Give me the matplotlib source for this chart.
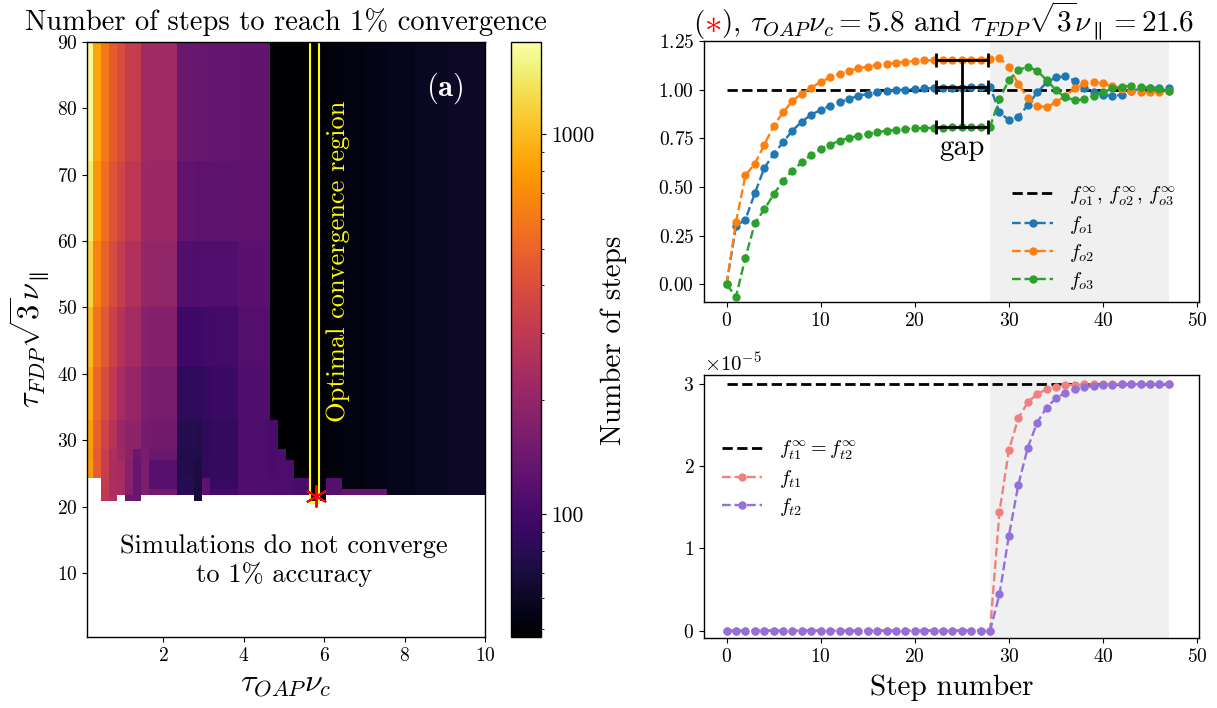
import numpy as np
import matplotlib
matplotlib.use("Agg")
import matplotlib.pyplot as plt
from matplotlib import colors, ticker, transforms
from matplotlib.patches import Rectangle

plt.rcParams.update({
    "font.family": "serif",
    "font.serif": ["cmr10"],
    "mathtext.fontset": "cm",
    "axes.formatter.use_mathtext": True,
    "axes.linewidth": 1.0,
    "xtick.labelsize": 14,
    "ytick.labelsize": 14,
})

nan = np.nan

# ---- scan over (tau_OAP nu_c, tau_FDP sqrt3 nu_par): steps to 1% convergence
x_edges = [0.05, 0.25, 0.45, 0.65, 0.85, 1.05, 1.25, 1.45, 1.65, 2.35, 2.75,
           2.95, 3.15, 3.85, 4.65, 4.85, 5.05, 5.25, 5.65, 6.05, 6.45, 7.05,
           7.55, 8.25, 9.05, 10.05]
y_edges = [20.9, 21.77, 22.63, 24.36, 26.96, 28.69, 33.02, 41.0, 50.0, 60.0,
           72.0, 90.2]
# one list per x band, bottom row first (nan = did not converge)
steps_by_band = [
    [nan, nan, nan, 800, 780, 800, 880, 1000, 1200, 1450, 1650],
    [nan, nan, nan, 470, 460, 480, 520, 580, 660, 760, 850],
    [300, 300, 310, 320, 330, 350, 390, 440, 490, 550, 600],
    [260, 250, 250, 245, 250, 270, 300, 340, 380, 425, 465],
    [nan, 240, 240, 235, 215, 210, 235, 270, 310, 355, 395],
    [140, 175, 180, 180, 185, 190, 205, 230, 260, 290, 315],
    [140, 135, 135, 135, 140, 190, 205, 230, 260, 290, 315],
    [nan, 170, 165, 160, 160, 155, 165, 180, 200, 215, 228],
    [nan, 150, 118, 118, 140, 150, 158, 175, 195, 212, 225],
    [nan, 80, 78, 76, 76, 78, 84, 96, 112, 128, 140],
    [68, 68, 70, 72, 74, 76, 84, 96, 110, 125, 138],
    [nan, 125, 125, 85, 84, 84, 88, 98, 112, 125, 136],
    [nan, 100, 90, 88, 88, 88, 92, 100, 112, 124, 132],
    [nan, 112, 110, 108, 108, 108, 110, 114, 120, 126, 130],
    [nan, 108, 108, 106, 106, 106, 48, 48, 48, 48, 48],
    [nan, 108, 108, 108, 108, 48, 48, 48, 48, 48, 48],
    [nan, 108, 108, 108, 48, 48, 48, 48, 48, 48, 48],
    [nan, 105, 105, 48, 48, 48, 48, 48, 48, 48, 48],
    [48, 48, 48, 48, 48, 48, 48, 48, 48, 48, 48],
    [nan, 117, 117, 51, 51, 51, 51, 51, 51, 51, 51],
    [nan, 130, 53, 53, 53, 53, 53, 53, 53, 53, 53],
    [nan, 130, 55, 55, 55, 55, 55, 55, 55, 55, 55],
    [nan, 57, 57, 57, 57, 57, 57, 57, 57, 57, 57],
    [nan, 59, 59, 59, 59, 59, 59, 59, 59, 59, 59],
    [nan, 61, 61, 61, 61, 61, 61, 61, 61, 61, 61],
]
steps_min, steps_max = 47.5, 1750
opt_band = (5.65, 5.88)
opt_x, opt_y = 5.8, 21.6

# ---- time series for the starred point
step = np.arange(48)
relax_start = 28
f_o1 = [0.0, 0.30, 0.333, 0.468, 0.597, 0.67, 0.73, 0.79, 0.836, 0.872,
        0.896, 0.918, 0.935, 0.952, 0.969, 0.978, 0.986, 0.995, 0.998, 1.0,
        1.004, 1.007, 1.008, 1.009, 1.01, 1.011, 1.012, 1.012, 1.015, 0.883,
        0.844, 0.862, 0.92, 0.986, 1.037, 1.063, 1.068, 1.046, 1.01, 0.986,
        0.973, 0.969, 0.973, 0.995, 1.004, 1.01, 1.01, 1.01]
f_o2 = [0.0, 0.32, 0.56, 0.62, 0.716, 0.815, 0.883, 0.943, 0.98, 1.01,
        1.04, 1.063, 1.08, 1.097, 1.11, 1.118, 1.127, 1.132, 1.138, 1.144,
        1.147, 1.15, 1.152, 1.153, 1.154, 1.155, 1.155, 1.155, 1.16, 1.165,
        1.115, 1.03, 0.957, 0.918, 0.91, 0.935, 0.969, 1.007, 1.032, 1.037,
        1.032, 1.017, 1.004, 0.991, 0.986, 0.986, 0.99, 0.995]
f_o3 = [0.0, -0.062, 0.137, 0.314, 0.385, 0.462, 0.533, 0.585, 0.627, 0.667,
        0.696, 0.718, 0.738, 0.752, 0.764, 0.772, 0.781, 0.79, 0.793, 0.798,
        0.801, 0.803, 0.804, 0.805, 0.806, 0.807, 0.808, 0.809, 0.81, 0.952,
        1.05, 1.1, 1.118, 1.097, 1.05, 0.998, 0.96, 0.947, 0.95, 0.969,
        0.986, 1.007, 1.015, 1.02, 1.015, 1.01, 1.004, 0.995]
f_o_inf = 1.0

f_t1 = [0.0] * 29 + [1.448, 2.198, 2.584, 2.778, 2.879, 2.936, 2.968, 2.985,
                     2.99, 2.995, 2.998, 3.0, 3.0, 3.0, 3.0, 3.0, 3.0, 3.0, 3.0]
f_t2 = [0.0] * 29 + [0.443, 1.156, 1.773, 2.226, 2.53, 2.713, 2.827, 2.895,
                     2.936, 2.96, 2.977, 2.985, 2.99, 2.995, 2.997, 2.998,
                     3.0, 3.0, 3.0]
f_t_inf = 3.0
t_scale = 1e-5

fig = plt.figure(figsize=(12.17, 7.08), dpi=100)
W, H = 1217, 708


def box(l, t, r, b):
    return [l / W, 1 - b / H, (r - l) / W, (b - t) / H]


# ================= heat map =================
ax = fig.add_axes(box(87, 42, 485, 637))
grid = np.array(steps_by_band, dtype=float).T
mesh = ax.pcolormesh(x_edges, y_edges, np.ma.masked_invalid(grid),
                     cmap="inferno",
                     norm=colors.LogNorm(vmin=steps_min, vmax=steps_max))
ax.set_xlim(0.1, 10)
ax.set_ylim(0.35, 90)
ax.set_xticks([2, 4, 6, 8, 10])
ax.set_yticks(range(10, 91, 10))
ax.set_title("Number of steps to reach 1% convergence", fontsize=20.5, pad=9)
ax.set_xlabel(r"$\tau_{OAP}\nu_c$", fontsize=23, labelpad=5)
ax.set_ylabel(r"$\tau_{FDP}\sqrt{3}\nu_\parallel$", fontsize=22, labelpad=4)

ax.add_patch(Rectangle((opt_band[0], 20.5), opt_band[1] - opt_band[0], 72,
                       fill=False, ec="yellow", lw=1.5, clip_on=True))
ax.plot(opt_x, opt_y, marker=(6, 2, 0), ms=16, mew=1.4, color="red",
        ls="none")
ax.text(6.35, 57, "Optimal convergence region", color="yellow", rotation=90,
        ha="center", va="center", fontsize=19)
ax.text(9.0, 83, r"$\mathbf{(a)}$", color="white", ha="center", va="center",
        fontsize=22)
ax.text(5.0, 11.8, "Simulations do not converge\nto 1% accuracy",
        ha="center", va="center", fontsize=19, linespacing=1.2)

cax = fig.add_axes(box(511, 42, 541, 637))
cb = fig.colorbar(mesh, cax=cax)
cb.ax.yaxis.set_major_formatter(ticker.FuncFormatter(lambda v, p: f"{v:g}"))
cb.ax.yaxis.set_minor_formatter(ticker.NullFormatter())
cb.ax.tick_params(labelsize=15.5)

# ================= f_o =================
ax1 = fig.add_axes(box(704, 41, 1199, 302))
ax1.axvspan(relax_start, step[-1], color="#f0f0f0", lw=0, zorder=0)
ax1.plot([step[0], step[-1]], [f_o_inf, f_o_inf], "k--", lw=2,
         label=r"$f_{o1}^{\infty}$, $f_{o2}^{\infty}$, $f_{o3}^{\infty}$")
line_kw = dict(ls="--", marker="o", ms=5, lw=1.7)
ax1.plot(step, f_o1, color="#1f77b4", label=r"$f_{o1}$", **line_kw)
ax1.plot(step, f_o2, color="#ff7f0e", label=r"$f_{o2}$", **line_kw)
ax1.plot(step, f_o3, color="#2ca02c", label=r"$f_{o3}$", **line_kw)

# plateau spread just before relaxation starts
gap_x, gap_half = 25, 2.75
levels = [f_o2[relax_start - 1], f_o1[relax_start - 1], f_o3[relax_start - 1]]
ax1.errorbar([gap_x] * 3, levels, xerr=gap_half, fmt="none", ecolor="k",
             elinewidth=2, capsize=5, capthick=2)
ax1.plot([gap_x, gap_x], [min(levels), max(levels)], "k-", lw=2)
ax1.text(gap_x, min(levels) - 0.04, "gap", ha="center", va="top", fontsize=21)

ax1.set_xlim(-2.4, 50.2)
ax1.set_ylim(-0.09, 1.25)
ax1.set_xticks(range(0, 51, 10))
ax1.set_yticks([0, 0.25, 0.5, 0.75, 1.0, 1.25])
ax1.yaxis.set_major_formatter(ticker.FormatStrFormatter(r"$%.2f$"))
ax1.legend(loc="lower right", frameon=False, fontsize=14.5,
           labelspacing=0.3, bbox_to_anchor=(0.99, -0.03))

# title with a red marker
pieces = [("(", "k", 21), (r"$\ast$", "red", 25),
          (rf"), $\tau_{{OAP}}\nu_c = {opt_x}$ and "
           rf"$\tau_{{FDP}}\sqrt{{3}}\nu_\parallel = {opt_y}$", "k", 21)]
renderer = fig.canvas.get_renderer()
objs, widths = [], []
for s, c, fs in pieces:
    t = ax1.text(0.5, 1.035, s, color=c, transform=ax1.transAxes,
                 va="baseline", ha="left", fontsize=fs)
    objs.append(t)
    widths.append(t.get_window_extent(renderer).width)
x0 = -sum(widths) / 2 - 8
for t, w in zip(objs, widths):
    t.set_transform(transforms.offset_copy(ax1.transAxes, fig=fig, x=x0,
                                           units="dots"))
    x0 += w

# ================= f_t =================
ax2 = fig.add_axes(box(704, 375, 1199, 638))
ax2.axvspan(relax_start, step[-1], color="#f0f0f0", lw=0, zorder=0)
ax2.plot([step[0], step[-1]], [f_t_inf * t_scale] * 2, "k--", lw=2,
         label=r"$f_{t1}^{\infty} = f_{t2}^{\infty}$")
ax2.plot(step, np.array(f_t1) * t_scale, color="#f08080", label=r"$f_{t1}$",
         **line_kw)
ax2.plot(step, np.array(f_t2) * t_scale, color="#9370db", label=r"$f_{t2}$",
         **line_kw)
ax2.set_xlim(-2.4, 50.2)
ax2.set_ylim(-0.09e-5, 3.11e-5)
ax2.set_xticks(range(0, 51, 10))
ax2.set_yticks(np.array([0, 1, 2, 3]) * t_scale)
ax2.yaxis.get_offset_text().set_fontsize(15)
ax2.legend(loc="upper left", frameon=False, fontsize=14.5,
           labelspacing=0.3, bbox_to_anchor=(0.0, 0.825))

for a in (ax, ax1, ax2):
    a.tick_params(direction="out", length=3.5)

fig.text(614 / W, 1 - 340 / H, "Number of steps", rotation=90, ha="center",
         va="center", fontsize=21)
fig.text(952 / W, 1 - 688 / H, "Step number", ha="center", va="center",
         fontsize=21)

fig.savefig("out.png", dpi=100)
